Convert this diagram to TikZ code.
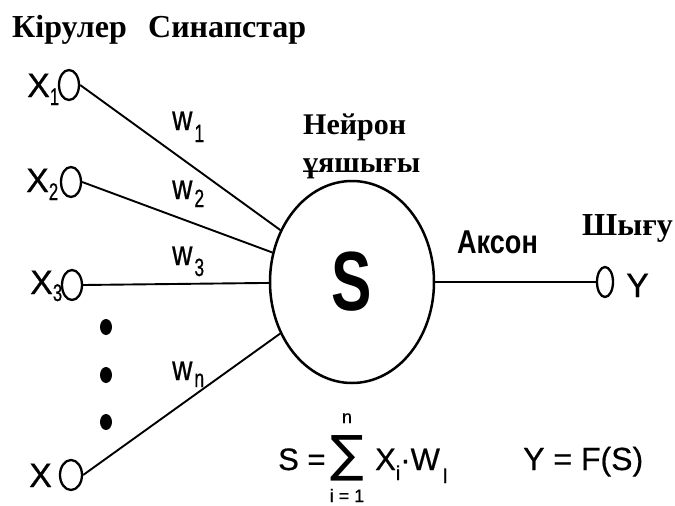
\documentclass[tikz,border=0pt]{standalone}
\usepackage{fontspec}
\setmainfont{Liberation Serif}
\newfontfamily\arialfam[FakeBold=0.6]{Liberation Sans}
\newfontfamily\arialnarrow[FakeStretch=0.8,FakeBold=0.6]{Liberation Sans}
\newfontfamily\arialsubs[FakeStretch=0.7,FakeBold=0.5]{Liberation Sans}
\newfontfamily\arialsoma[FakeStretch=0.72]{Liberation Sans}
\newfontfamily\arialax[FakeStretch=0.82]{Liberation Sans}
\newfontfamily\dejavu{DejaVu Sans}
\usetikzlibrary{shapes.geometric}
\newcommand\headfnt{\bfseries\fontsize{32}{38}\selectfont}
\newcommand\cellfnt{\bfseries\fontsize{30}{36}\selectfont}
\newcommand\xfnt{\arialfam\fontsize{34}{38}\selectfont}
\newcommand\xsub[2]{\raisebox{-#1pt}{\arialsubs\fontsize{24}{24}\selectfont #2}}
\newcommand\wfnt{\arialnarrow\fontsize{35}{36}\selectfont}
\newcommand\wsub[2]{\hspace{2pt}\raisebox{-#1pt}{\arialsubs\fontsize{25}{25}\selectfont #2}}
\newcommand\formfnt{\arialfam\fontsize{31}{34}\selectfont}
\newcommand\smallfnt{\arialfam\fontsize{18}{20}\selectfont}
\begin{document}
\begin{tikzpicture}[x=1pt,y=-1pt,
  inp/.style={draw, ellipse, minimum width=20pt, minimum height=30pt, inner sep=0pt, line width=2.3pt},
  outp/.style={draw, ellipse, minimum width=16pt, minimum height=30pt, inner sep=0pt, line width=2.3pt},
  wire/.style={line width=1.9pt},
  dotn/.style={fill, ellipse, minimum width=12pt, minimum height=16pt, inner sep=0pt},
  lbl/.style={anchor=base west, inner sep=0pt},
  ctr/.style={anchor=base, inner sep=0pt}]
\fill[white] (0,0) rectangle (675,506);
\useasboundingbox (0,0) rectangle (675,506);
% headings
\node[lbl, font=\headfnt] (kir) at (12,37) {Кірулер};
\node[lbl, font=\headfnt] (syn) at (148,37) {Синапстар};
\node[lbl, font=\cellfnt] (nei) at (303,134) {Нейрон};
\node[lbl, font=\cellfnt] (uya) at (303,172) {ұяшығы};
\node[lbl, font=\headfnt] (shy) at (582,235) {Шығу};
\node[lbl, font=\arialax\bfseries\fontsize{33}{36}\selectfont] (akson) at (457,253) {Аксон};
% soma
\node[draw, ellipse, minimum width=164pt, minimum height=202pt, inner sep=0pt, line width=2.5pt,
      font=\arialsoma\bfseries\fontsize{84}{90}\selectfont] (soma) at (352,282) {S};
% inputs
\node[inp] (x1) at (69,85) {};
\node[inp] (x2) at (71,182) {};
\node[inp] (x3) at (72,285) {};
\node[inp, minimum width=22pt] (xn) at (71,475) {};
\node[outp] (y) at (605,282) {};
\node[lbl, font=\xfnt] (lx1) at (27,97) {X\xsub{8}{1}};
\node[lbl, font=\xfnt] (lx2) at (26,192) {X\xsub{8}{2}};
\node[lbl, font=\xfnt] (lx3) at (30,294) {X\xsub{7}{3}};
\node[lbl, font=\xfnt] (lxn) at (29,487) {X};
\node[lbl, font=\xfnt] (ly) at (626,297) {Y};
% dots
\node[dotn] (d1) at (106,327) {};
\node[dotn] (d2) at (106,375) {};
\node[dotn] (d3) at (106,422) {};
% connectors
\draw[wire] (x1.east) -- (soma);
\draw[wire] (x2.east) -- (soma);
\draw[wire] (x3.east) -- (soma);
\draw[wire] (xn.east) -- (soma);
\draw[wire] (soma.east) -- (y.west);
% weights
\node[lbl, font=\wfnt] (w1) at (172,130) {w\wsub{12}{1}};
\node[lbl, font=\wfnt] (w2) at (172,199) {w\wsub{8}{2}};
\node[lbl, font=\wfnt] (w3) at (172,265) {w\wsub{11}{3}};
\node[lbl, font=\wfnt] (wn) at (172,380) {w\wsub{7}{n}};
% formula
\node[lbl, font=\formfnt] (fs) at (278,470) {S =};
\node[ctr, font=\dejavu\fontsize{50}{52}\selectfont] (sig) at (347,471) {∑};
\node[ctr, font=\smallfnt] (sn) at (347,423) {n};
\node[ctr, font=\smallfnt] (si) at (347,502) {i = 1};
\node[lbl, font=\formfnt] (fx) at (375,470) {X\raisebox{-10pt}{\fontsize{20}{20}\selectfont i}·W\hspace{3pt}\raisebox{-13pt}{\fontsize{20}{20}\selectfont l}};
\node[lbl, font=\arialfam\fontsize{32}{34}\selectfont] (fy) at (523,470) {Y = F(S)};
\end{tikzpicture}
\end{document}
